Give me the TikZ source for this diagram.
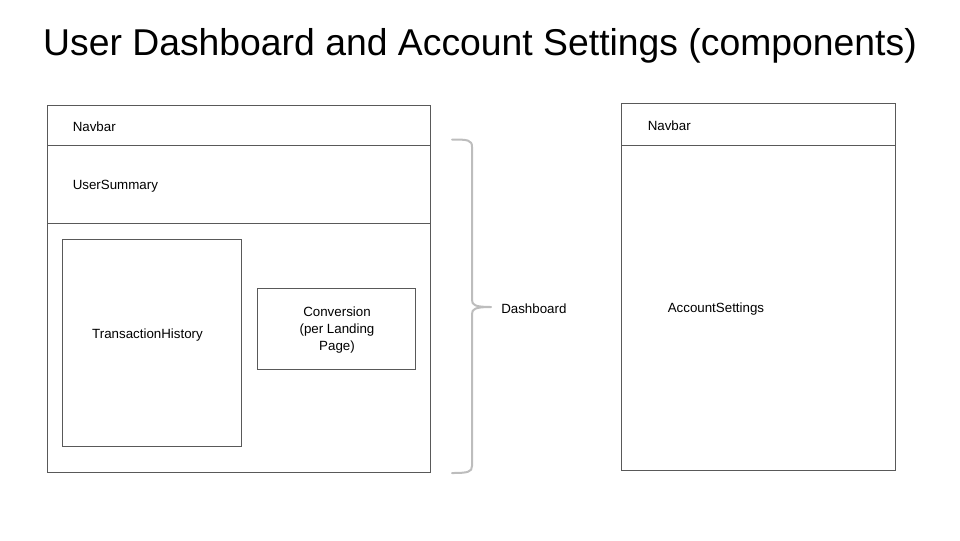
\documentclass[tikz,border=0pt]{standalone}
\usepackage{fontspec}
\setmainfont{Liberation Sans}
\usepackage{xcolor}
\usetikzlibrary{positioning}

\definecolor{framegray}{HTML}{595959}
\definecolor{bracegray}{HTML}{BDBDBD}

\begin{document}
\begin{tikzpicture}[
    x=0.75pt, y=-0.75pt,
    node distance=0pt,
    every node/.style={font=\fontsize{10}{12}\selectfont},
    frame/.style={
      rectangle, draw=framegray, line width=0.75pt, inner sep=0pt,
      align=center
    },
    lbl/.style={inner sep=0pt, anchor=west, yshift=-1.5pt},
    brc/.style={draw=bracegray, line width=1.5pt, line cap=round, line join=round}
  ]
    \useasboundingbox (0,0) rectangle (960,540);

    % Title
    \node[font=\fontsize{28}{33}\selectfont] (title) at (480,46)
      {User Dashboard and Account Settings (components)};

    % Dashboard page
    \node[frame, minimum width=287.25pt, minimum height=30pt] (navL) at (238.5,125) {};
    \node[frame, minimum width=287.25pt, minimum height=58.5pt] (summary) at (238.5,184) {};
    \node[frame, minimum width=287.25pt, minimum height=186.75pt] (content) at (238.5,347.5) {};
    \node[lbl, right=19.5pt of navL.west] (navLtext) {Navbar};
    \node[lbl, right=19.5pt of summary.west] (summarytext) {UserSummary};

    \node[frame, minimum width=134.25pt, minimum height=155.25pt] (history) at (151.5,342.5) {};
    \node (historytext) at (147.5,335) {TransactionHistory};
    \node[frame, minimum width=118.5pt, minimum height=60.75pt] (conversion) at (336,328.5) {};
    \node[align=center, font=\fontsize{10}{12.5}\selectfont] (conversiontext) at (337,330)
      {Conversion\\(per Landing\\Page)};

    % Brace
    \coordinate (braceTop) at (452,139.5);
    \coordinate (braceTip) at (491,307);
    \coordinate (braceBot) at (452,473);
    \draw[brc] (braceTop) .. controls (468,139.5) and (472,140) .. (472,147)
      -- (472,300) .. controls (472,305) and (475,307) .. (braceTip)
      .. controls (475,307) and (472,309) .. (472,314)
      -- (472,466) .. controls (472,472) and (468,473) .. (braceBot);
    \node[lbl, right=7.5pt of braceTip] (dashlabel) {Dashboard};

    % Account settings page
    \node[frame, minimum width=205.5pt, minimum height=31.5pt] (navR) at (758,124) {};
    \node[frame, minimum width=205.5pt, minimum height=243.75pt] (settings) at (758,307.5) {};
    \node[lbl, right=20.25pt of navR.west] (navRtext) {Navbar};
    \node[lbl, right=35.25pt of settings.west] (settingstext) {AccountSettings};

  \end{tikzpicture}
\end{document}
